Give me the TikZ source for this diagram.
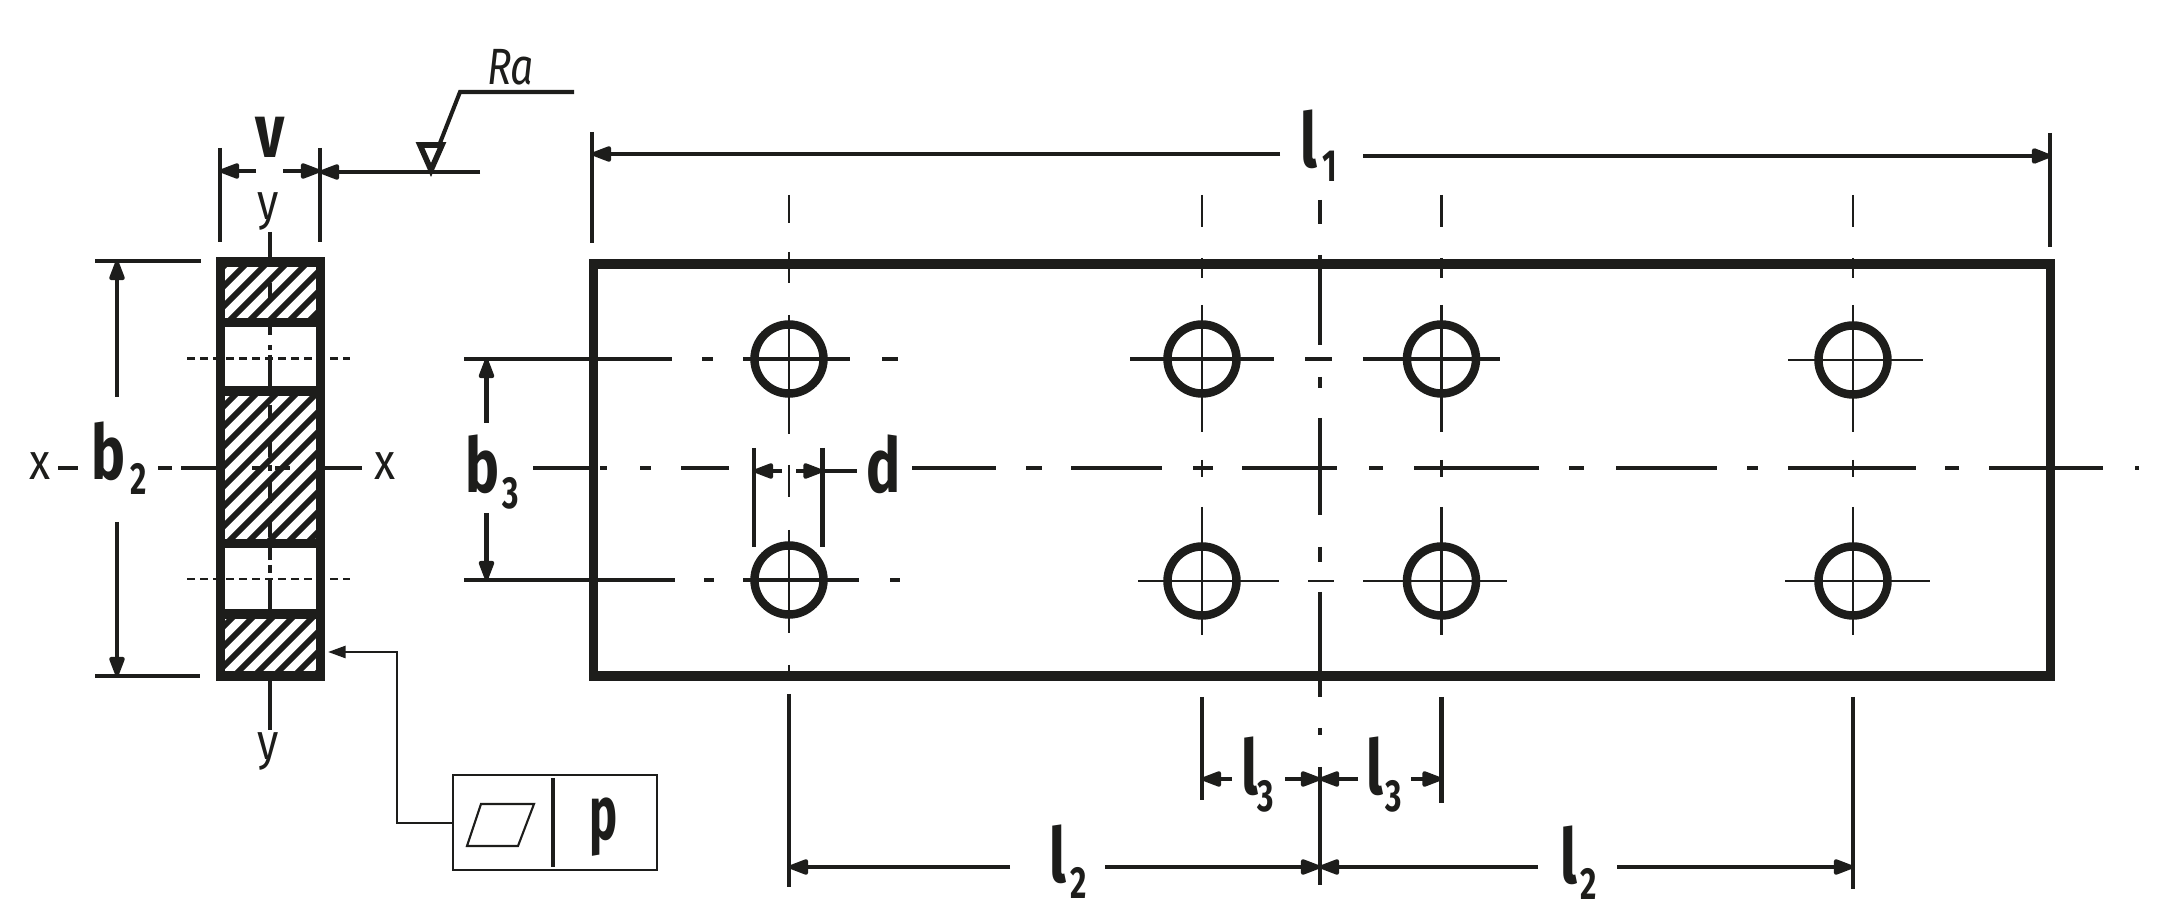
\documentclass[tikz,border=0pt]{standalone}
\usepackage{fontspec}
\usepackage{graphicx}
\setmainfont{Fira Sans}
\usetikzlibrary{arrows.meta}
\definecolor{ink}{HTML}{1D1D1B}
\newcommand{\cnd}[2]{\scalebox{#1}[1]{#2}}
\newcommand{\bigf}{\fontsize{21.6}{24}\selectfont\bfseries}
\newcommand{\medf}{\fontsize{21.6}{24}\selectfont}
\newcommand{\subf}{\fontsize{12.8}{14}\selectfont\bfseries}
\newcommand{\smlf}{\fontsize{14.5}{16}\selectfont}
\tikzset{
  x=0.01cm,y=-0.01cm,
  lab/.style={anchor=base west,inner sep=0,outer sep=0,text=ink},
  thinl/.style={draw=ink,line width=0.75pt},
  medl/.style={draw=ink,line width=1.15pt},
  thickl/.style={draw=ink,line width=2.6pt,line join=miter},
  tip/.style={-{Stealth[length=6.6pt,width=4.6pt,inset=0pt,round]}},
  hatchl/.style={draw=ink,line width=1.7pt},
  hole/.style={circle,draw=ink,line width=2.4pt,minimum size=0.69cm,inner sep=0,outer sep=0},
  dotl/.style={draw=ink,line width=0.7pt,dash pattern=on 2.2pt off 1.5pt}
}
\begin{document}
\begin{tikzpicture}
\useasboundingbox (0,0) rectangle (2162,922);
% ---- section hatching
\begin{scope}
  \clip (220,262) rectangle (321,322) (220,390) rectangle (321,543) (220,614) rectangle (321,676);
  \foreach \c in {470,490,...,1010}{
    \draw[hatchl] ({\c-240},240) -- ({\c-700},700);
  }
\end{scope}
% ---- section outline
\draw[thickl] (220.5,262) rectangle (320.5,676);
\draw[thickl] (220,322.5) -- (321,322.5) (220,391) -- (321,391) (220,543.5) -- (321,543.5) (220,614) -- (321,614);
% section axes
\draw[medl] (270,232) -- (270,262) (270,679) -- (270,730);
\draw[medl] (270,283) -- (270,300) (270,327) -- (270,335) (270,345) -- (270,350) (270,355) -- (270,387)
  (270,405) -- (270,420) (270,440) -- (270,457) (270,465) -- (270,471) (270,480) -- (270,503) (270,520) -- (270,537)
  (270,548) -- (270,560) (270,565) -- (270,573) (270,578) -- (270,609);
\draw[dotl] (187,358.5) -- (350,358.5) (187,579) -- (350,579);
\draw[medl] (58,468) -- (78,468) (158,468) -- (172,468) (181,468) -- (216,468) (325,468) -- (362,468);
\draw[medl] (252,468) -- (262,468) (275,468) -- (290,468);
% section dimensions
\draw[medl] (220,148) -- (220,242) (320,148) -- (320,242);
\draw[medl,tip] (256,171) -- (220,171);
\draw[medl,tip] (283,171) -- (320,171);
\draw[medl,tip] (480,172) -- (320,172);
\draw[medl] (95,261) -- (201,261) (95,676) -- (200,676);
\draw[medl,tip] (117,397) -- (117,261);
\draw[medl,tip] (117,522) -- (117,676);
% surface symbol
\draw[line width=1.6pt,draw=ink,line join=miter] (420,145) -- (442,145) -- (431,170) -- cycle;
\draw[medl] (440,143) -- (460,92) -- (574,92);
% labels of the section
\node[lab] (ra) at (487,85) {\smlf\itshape\cnd{.8}{Ra}};
\node[lab] (v) at (255,158) {\bigf\cnd{.75}{v}};
\node[lab] (ytop) at (258,220) {\smlf\cnd{.85}{y}};
\node[lab] (ybot) at (258,760) {\smlf\cnd{.85}{y}};
\node[lab] (xl) at (30,480) {\smlf\cnd{.85}{x}};
\node[lab] (xr) at (374,480) {\smlf\cnd{.85}{x}};
\node[lab] (b2) at (91,480) {\bigf\cnd{.75}{b}};
\node[lab] (b2s) at (130,495) {\subf\cnd{.7}{2}};
% callout
\node[draw=ink,line width=0.75pt,minimum width=2.04cm,minimum height=0.95cm,inner sep=0,outer sep=0,anchor=north west] (box) at (453,775) {};
\draw[line width=1pt,draw=ink] (553,778) -- (553,867);
\draw[line width=0.6pt,draw=ink,line join=miter] (467,846) -- (518,846) -- (534,804) -- (481,804) -- cycle;
\node[lab] (p) at (589,840) {\bigf\cnd{.62}{p}};
\coordinate (ctip) at (328,652);
\draw[thinl,-{Stealth[length=5pt,width=3.4pt,inset=0pt]}] (box.west |- 0,823) -- (397,823) -- (397,652) -- (ctip);
% ---- plate
\draw[thickl] (593.5,264) rectangle (2050.5,676);
% holes
\foreach \n/\x/\ya/\yb in {a/789/359/580,b/1202/359/581,c/1441.5/359/581,d/1853/360/581}{
  \node[hole] (\n t) at (\x,\ya) {};
  \node[hole] (\n b) at (\x,\yb) {};
}
% hole verticals
\foreach \x in {1202,1441.5,1853}{
  \draw[thinl] (\x,195) -- (\x,227) (\x,258) -- (\x,278) (\x,305) -- (\x,432) (\x,460) -- (\x,477) (\x,507) -- (\x,635);
}
\draw[thinl] (789,195) -- (789,223) (789,252) -- (789,283) (789,315) -- (789,434) (789,465) -- (789,497) (789,530) -- (789,633) (789,665) -- (789,672);
% horizontal centre lines, upper row
\draw[medl] (464,359) -- (672,359) (702,359) -- (713,359) (743,359) -- (850,359) (882,359) -- (898,359);
\draw[medl] (1130,359) -- (1274,359) (1305,359) -- (1332,359) (1363,359) -- (1500,359);
\draw[thinl] (1788,360) -- (1923,360);
% horizontal centre lines, lower row
\draw[medl] (464,580) -- (675,580) (704,580) -- (714,580) (743,580) -- (859,580) (890,580) -- (900,580);
\draw[thinl] (1138,581) -- (1279,581) (1308,581) -- (1334,581) (1363,581) -- (1507,581) (1785,581) -- (1930,581);
% main horizontal axis
\draw[medl] (533,468) -- (596,468) (600,468) -- (607,468) (640,468) -- (651,468) (681,468) -- (729,468)
  (912,468) -- (996,468) (1026,468) -- (1042,468) (1071,468) -- (1162,468) (1193,468) -- (1213,468)
  (1242,468) -- (1337,468) (1369,468) -- (1383,468) (1414,468) -- (1539,468) (1569,468) -- (1584,468)
  (1616,468) -- (1717,468) (1747,468) -- (1758,468) (1788,468) -- (1916,468) (1945,468) -- (1959,468)
  (1989,468) -- (2103,468) (2135,468) -- (2139,468);
% main vertical axis
\draw[medl] (1320,200) -- (1320,224) (1320,255) -- (1320,345) (1320,377) -- (1320,388) (1320,418) -- (1320,515)
  (1320,547) -- (1320,562) (1320,592) -- (1320,697) (1320,728) -- (1320,735) (1320,767) -- (1320,885);
% l1
\draw[medl] (592,132) -- (592,243) (2050,133) -- (2050,247);
\draw[medl,tip] (1280,154) -- (592,154);
\draw[line width=1.4pt,draw=ink,tip] (1363,156) -- (2050,156);
\node[lab] (l1) at (1300,168) {\bigf\cnd{.75}{l}};
\node[lab] (l1s) at (1322,182) {\subf\cnd{.7}{1}};
% b3
\draw[medl,tip] (486.5,423) -- (486.5,359);
\draw[medl,tip] (486.5,513) -- (486.5,580);
\node[lab] (b3) at (465,493) {\bigf\cnd{.75}{b}};
\node[lab] (b3s) at (502,509) {\subf\cnd{.7}{3}};
% d
\draw[medl] (754,448) -- (754,547) (822.5,448) -- (822.5,547);
\draw[medl,tip] (782,471) -- (754,471);
\draw[medl,tip] (796,471) -- (822.5,471);
\draw[medl] (822.5,471) -- (857,471);
\node[lab] (dl) at (866,493) {\bigf\cnd{.75}{d}};
% lower extension lines
\draw[medl] (789,694) -- (789,887) (1853,697) -- (1853,889) (1202,697) -- (1202,800) (1441.5,697) -- (1441.5,803);
% l3
\draw[medl,tip] (1232,779) -- (1202,779);
\draw[medl,tip] (1285,779) -- (1320,779);
\draw[medl,tip] (1358,779) -- (1320,779);
\draw[medl,tip] (1411,779) -- (1441.5,779);
\node[lab] (l3a) at (1241,795) {\bigf\cnd{.75}{l}};
\node[lab] (l3as) at (1257,812) {\subf\cnd{.7}{3}};
\node[lab] (l3b) at (1366,795) {\bigf\cnd{.75}{l}};
\node[lab] (l3bs) at (1385,812) {\subf\cnd{.7}{3}};
% l2
\draw[medl,tip] (1010,867) -- (789,867);
\draw[medl,tip] (1105,867) -- (1320,867);
\draw[medl,tip] (1538,867) -- (1320,867);
\draw[medl,tip] (1617,867) -- (1853,867);
\node[lab] (l2a) at (1049,883) {\bigf\cnd{.75}{l}};
\node[lab] (l2as) at (1070,899) {\subf\cnd{.7}{2}};
\node[lab] (l2b) at (1560,884) {\bigf\cnd{.75}{l}};
\node[lab] (l2bs) at (1580,900) {\subf\cnd{.7}{2}};
\end{tikzpicture}
\end{document}
